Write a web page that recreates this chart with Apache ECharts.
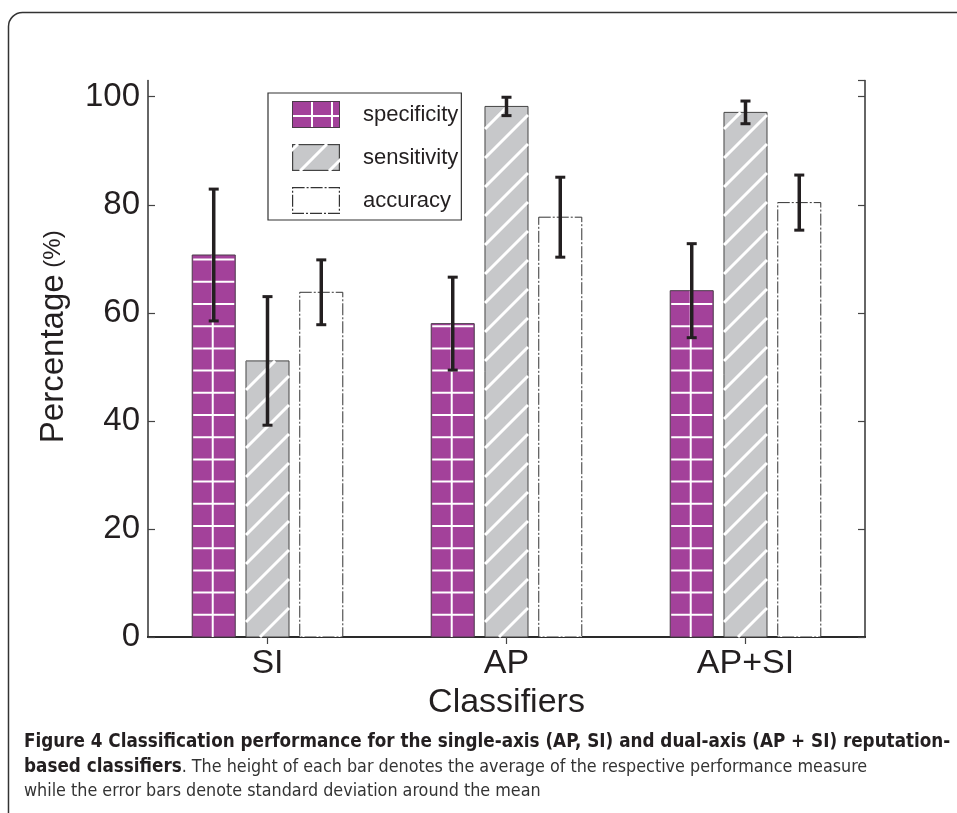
<!DOCTYPE html>
<html>
<head>
<meta charset="utf-8">
<script src="https://cdn.jsdelivr.net/npm/echarts@6/dist/echarts.min.js"></script>
<style>
html,body{margin:0;padding:0;background:#fff;}
#chart{width:957px;height:813px;}
</style>
</head>
<body>
<div id="chart"></div>
<script>
// ---------- data ----------
const categories = ['SI', 'AP', 'AP+SI'];
const measures = ['specificity', 'sensitivity', 'accuracy'];
const specificityMean = [70.7, 58.0, 64.1];
const specificitySD = [12.2, 8.6, 8.7];
const sensitivityMean = [51.1, 98.2, 97.1];
const sensitivitySD = [11.9, 1.7, 2.1];
const accuracyMean = [63.8, 77.7, 80.4];
const accuracySD = [6.0, 7.4, 5.1];
const yTickValues = [0, 20, 40, 60, 80, 100];

// ---------- styles ----------
const PURPLE = '#a3419a';
const GREY = '#c7c8ca';
const INK = '#231f20';
const FONT = '"Liberation Sans", Arial, Helvetica, sans-serif';
const CAPFONT = '"DejaVu Sans Condensed", "Liberation Sans Narrow", sans-serif';

function barRender(kind, slot) {
  return function (params, api) {
    const cat = api.value(0), v = api.value(1);
    const band = api.size([1, 0])[0];
    const bw = band * 0.18, step = band * 0.225;
    const topPt = api.coord([cat, v]);
    const basePt = api.coord([cat, 0]);
    const cx = topPt[0] + (slot - 1) * step;
    const x0 = cx - bw / 2, y0 = topPt[1], base = basePt[1];
    const h = base - y0;
    const children = [];
    if (kind === 'specificity') {
      children.push({type: 'rect', shape: {x: x0, y: y0, width: bw, height: h},
        style: {fill: PURPLE, stroke: '#4a3a48', lineWidth: 1}});
      const P = 22.2;
      children.push({type: 'line', shape: {x1: cx - 1, y1: y0, x2: cx - 1, y2: base},
        style: {stroke: '#fff', lineWidth: 2}});
      for (let y = base - P; y > y0 + 1; y -= P) {
        children.push({type: 'line', shape: {x1: x0 + 1, y1: y, x2: x0 + bw - 1, y2: y},
          style: {stroke: '#fff', lineWidth: 2}});
      }
    } else if (kind === 'sensitivity') {
      children.push({type: 'rect', shape: {x: x0, y: y0, width: bw, height: h},
        style: {fill: GREY, stroke: '#444', lineWidth: 1}});
      const P = 29;
      for (let yk = base + bw; yk > y0; yk -= P) {
        let t1 = Math.max(0, (yk - base) / bw);
        let t2 = Math.min(1, (yk - y0) / bw);
        if (t2 <= t1) continue;
        children.push({type: 'line', shape: {
          x1: x0 + t1 * bw, y1: yk - t1 * bw, x2: x0 + t2 * bw, y2: yk - t2 * bw},
          style: {stroke: '#fff', lineWidth: 3}});
      }
    } else {
      children.push({type: 'rect', shape: {x: x0, y: y0, width: bw, height: h},
        style: {fill: '#fff', stroke: '#333', lineWidth: 1, lineDash: [12, 2, 2, 2]}});
    }
    return {type: 'group', children: children};
  };
}

function errRender(params, api) {
  const cat = api.value(0), mean = api.value(1), sd = api.value(2), slot = api.value(3);
  const band = api.size([1, 0])[0];
  const step = band * 0.225;
  const hi = api.coord([cat, mean + sd]);
  const lo = api.coord([cat, mean - sd]);
  const cx = hi[0] + (slot - 1) * step;
  const cap = 5;
  const st = {stroke: INK, lineWidth: 3.5};
  return {type: 'group', children: [
    {type: 'line', shape: {x1: cx, y1: hi[1], x2: cx, y2: lo[1]}, style: st},
    {type: 'line', shape: {x1: cx - cap, y1: hi[1], x2: cx + cap, y2: hi[1]}, style: {stroke: INK, lineWidth: 3}},
    {type: 'line', shape: {x1: cx - cap, y1: lo[1], x2: cx + cap, y2: lo[1]}, style: {stroke: INK, lineWidth: 3}}
  ]};
}

function swatch(kind) {
  const c = document.createElement('canvas');
  c.width = 48; c.height = 27;
  const g = c.getContext('2d');
  if (kind === 'specificity') {
    g.fillStyle = PURPLE; g.fillRect(0, 0, 48, 27);
    g.strokeStyle = '#fff'; g.lineWidth = 2;
    g.beginPath();
    g.moveTo(20, 0); g.lineTo(20, 27);
    g.moveTo(40, 0); g.lineTo(40, 27);
    g.moveTo(0, 15); g.lineTo(48, 15);
    g.stroke();
    g.strokeStyle = '#4a3a48'; g.lineWidth = 1; g.strokeRect(0.5, 0.5, 47, 26);
  } else if (kind === 'sensitivity') {
    g.fillStyle = GREY; g.fillRect(0, 0, 48, 27);
    g.strokeStyle = '#444'; g.lineWidth = 1.2; g.strokeRect(0.6, 0.6, 46.8, 25.8);
    g.save(); g.beginPath(); g.rect(0, 0, 48, 27); g.clip();
    g.strokeStyle = '#fff'; g.lineWidth = 3;
    [-21, 8, 37].forEach(function (x) {
      g.beginPath(); g.moveTo(x, 27); g.lineTo(x + 27, 0); g.stroke();
    });
    g.restore();
  } else {
    g.fillStyle = '#fff'; g.fillRect(0, 0, 48, 27);
    g.strokeStyle = '#333'; g.lineWidth = 1.2; g.setLineDash([12, 2, 2, 2]);
    g.strokeRect(0.6, 0.6, 46.8, 25.8);
  }
  return 'image://' + c.toDataURL('image/png');
}

const seriesMeans = {specificity: specificityMean, sensitivity: sensitivityMean, accuracy: accuracyMean};
const seriesSDs = {specificity: specificitySD, sensitivity: sensitivitySD, accuracy: accuracySD};

const barSeries = measures.map(function (m, slot) {
  return {
    name: m, type: 'custom', xAxisIndex: 0, yAxisIndex: 0,
    renderItem: barRender(m, slot),
    encode: {x: 0, y: 1},
    itemStyle: {color: m === 'specificity' ? PURPLE : (m === 'sensitivity' ? GREY : '#ffffff')},
    data: categories.map(function (c, i) { return [i, seriesMeans[m][i]]; }),
    z: 2
  };
});

const errData = [];
measures.forEach(function (m, slot) {
  categories.forEach(function (c, i) {
    errData.push([i, seriesMeans[m][i], seriesSDs[m][i], slot]);
  });
});

const chart = echarts.init(document.getElementById('chart'), null, {renderer: 'canvas'});

const axisLineStyle = {color: '#333', width: 1.5};
const tickStyle = {color: '#444', width: 1.2};

chart.setOption({
  backgroundColor: '#fff',
  animation: false,
  grid: {left: 148, top: 80.5, right: 92, bottom: 176, containLabel: false},
  legend: {
    orient: 'vertical', left: 268, top: 93,
    padding: [8, 3, 6, 24], itemGap: 16,
    itemWidth: 48, itemHeight: 27,
    borderColor: '#333', borderWidth: 1.2, backgroundColor: '#fff',
    textStyle: {fontSize: 22, color: INK, fontFamily: FONT, padding: [0, 0, 0, 18]},
    data: measures.map(function (m) { return {name: m, icon: swatch(m)}; })
  },
  xAxis: [{
    type: 'category', data: categories, position: 'bottom',
    axisLine: {lineStyle: {color: '#111', width: 2}},
    axisTick: {show: true, inside: true, alignWithLabel: true, length: 7, lineStyle: tickStyle},
    axisLabel: {fontSize: 34, color: INK, fontFamily: FONT, margin: 10},
    name: 'Classifiers', nameLocation: 'middle', nameGap: 42,
    nameTextStyle: {fontSize: 34, color: INK, fontFamily: FONT},
    splitLine: {show: false}
  }, {
    type: 'category', data: categories, position: 'top',
    axisLine: {lineStyle: axisLineStyle},
    axisTick: {show: true, inside: true, alignWithLabel: true, length: 7, lineStyle: tickStyle},
    axisLabel: {show: false}, splitLine: {show: false}
  }],
  yAxis: [{
    type: 'value', min: 0, max: 103, interval: 20, position: 'left',
    axisLine: {show: true, lineStyle: axisLineStyle},
    axisTick: {show: true, inside: true, length: 7, lineStyle: tickStyle},
    axisLabel: {fontSize: 33, color: INK, fontFamily: FONT, margin: 8, showMaxLabel: false},
    splitLine: {show: false},
    name: '{a|Percentage}{b| (%)}', nameLocation: 'middle', nameGap: 78, nameRotate: 90,
    nameTextStyle: {
      color: INK, fontFamily: FONT, padding: [0, 0, 0, 44],
      rich: {a: {fontSize: 33, fontFamily: FONT, color: INK}, b: {fontSize: 24, fontFamily: FONT, color: INK}}
    }
  }, {
    type: 'value', min: 0, max: 103, interval: 20, position: 'right',
    axisLine: {show: true, lineStyle: axisLineStyle},
    axisTick: {show: true, inside: true, length: 7, lineStyle: tickStyle},
    axisLabel: {show: false}, splitLine: {show: false}
  }],
  graphic: [{
    type: 'rect', silent: true, z: -1,
    shape: {x: 8.5, y: 12.5, width: 1200, height: 1200, r: 14},
    style: {fill: 'none', stroke: '#333', lineWidth: 1.5}
  }, {
    type: 'text', left: 24, top: 733, silent: true,
    style: {
      text: '{b|Figure 4 Classification performance for the single-axis (AP, SI) and dual-axis (AP + SI) reputation-}\n' +
            '{b|based classifiers}{n|. The height of each bar denotes the average of the respective performance measure}\n' +
            '{n|while the error bars denote standard deviation around the mean}',
      rich: {
        b: {fontSize: 18.7, fontWeight: 'bold', fontFamily: CAPFONT, fill: INK, lineHeight: 24.5},
        n: {fontSize: 17.8, fontFamily: CAPFONT, fill: '#333', lineHeight: 24.5}
      }
    }
  }],
  series: barSeries.concat([{
    name: 'error', type: 'custom', xAxisIndex: 0, yAxisIndex: 0,
    renderItem: errRender, encode: {x: 0, y: 1},
    data: errData, z: 5
  }])
});
</script>
</body>
</html>
